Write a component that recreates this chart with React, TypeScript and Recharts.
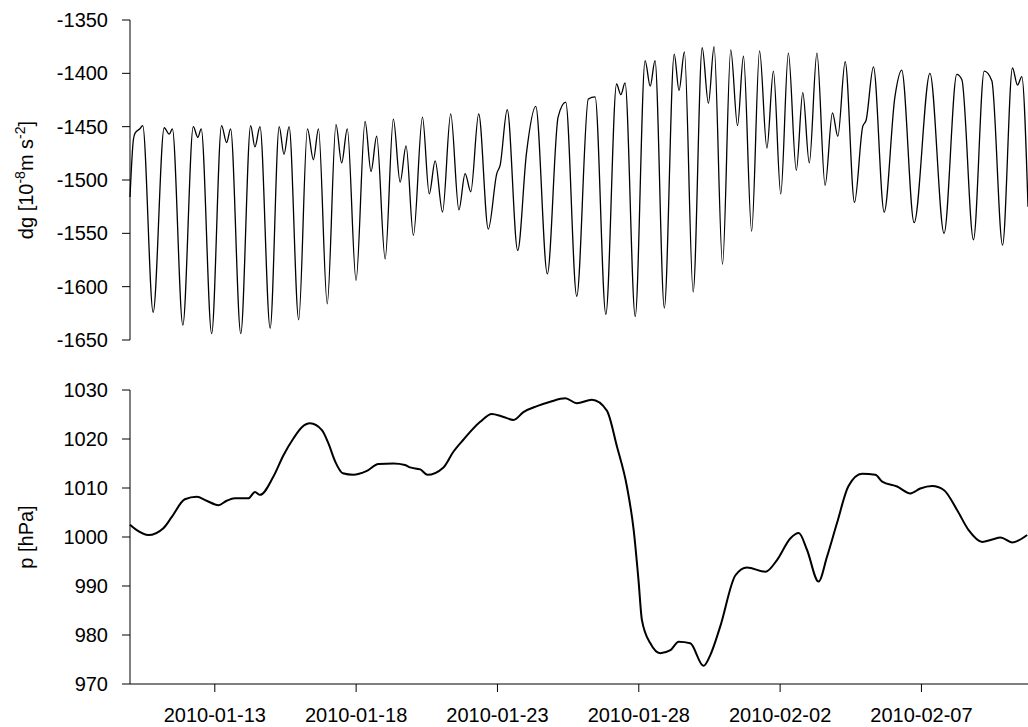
import { LineChart, Line, XAxis, YAxis } from "recharts";

// time axis: days after 2010-01-10 00:00
const X_TICKS = [3, 8, 13, 18, 23, 28];

const GRAV_T = [
  0, 0.12, 0.18, 0.35, 0.45, 0.82, 1.21, 1.39, 1.5, 1.87, 2.24, 2.4, 2.52, 2.89, 3.24, 3.42, 3.56, 3.92, 4.27, 4.42,
  4.6, 4.96, 5.28, 5.45, 5.63, 5.97, 6.28, 6.49, 6.67, 6.98, 7.29, 7.49, 7.69, 8.0, 8.32, 8.53, 8.73, 9.03, 9.32, 9.56,
  9.77, 10.03, 10.35, 10.59, 10.8, 11.06, 11.35, 11.64, 11.86, 12.06, 12.34, 12.68, 12.98, 13.1, 13.35, 13.72, 14.03,
  14.36, 14.77, 15.15, 15.42, 15.81, 16.22, 16.46, 16.84, 17.22, 17.37, 17.52, 17.88, 18.23, 18.41, 18.58, 18.91,
  19.26, 19.43, 19.62, 19.93, 20.25, 20.47, 20.67, 20.97, 21.26, 21.5, 21.71, 22.0, 22.28, 22.54, 22.77, 23.03, 23.3,
  23.58, 23.81, 24.04, 24.31, 24.6, 24.86, 25.05, 25.31, 25.64, 25.93, 26.05, 26.31, 26.69, 27.07, 27.31, 27.75,
  28.31, 28.81, 29.26, 29.44, 29.85, 30.23, 30.5, 30.88, 31.23, 31.41, 31.56, 31.78,
];

const GRAV_DG = [
  -1516, -1462, -1456, -1452, -1449, -1624, -1451, -1457, -1452, -1636, -1450, -1460, -1452, -1644, -1449, -1465,
  -1452, -1644, -1449, -1469, -1450, -1639, -1450, -1476, -1450, -1631, -1452, -1481, -1452, -1616, -1448, -1484,
  -1452, -1594, -1445, -1492, -1459, -1574, -1443, -1502, -1468, -1552, -1441, -1513, -1482, -1530, -1438, -1528,
  -1494, -1511, -1438, -1546, -1494, -1486, -1434, -1566, -1475, -1431, -1588, -1441, -1427, -1609, -1424, -1422,
  -1626, -1410, -1420, -1409, -1628, -1388, -1412, -1388, -1620, -1382, -1416, -1380, -1605, -1376, -1428, -1375,
  -1579, -1378, -1449, -1384, -1548, -1379, -1470, -1398, -1513, -1381, -1491, -1418, -1484, -1381, -1505, -1437,
  -1459, -1389, -1521, -1450, -1444, -1394, -1530, -1422, -1397, -1540, -1400, -1550, -1401, -1406, -1556, -1398,
  -1407, -1561, -1395, -1411, -1403, -1525,
];

const PRES_T = [
  0, 0.24, 0.65, 1.18, 1.48, 1.94, 2.36, 2.71, 3.13, 3.42, 3.71, 4.19, 4.42, 4.6, 5.07, 5.43, 5.78, 6.08, 6.37, 6.79,
  7.02, 7.26, 7.53, 7.9, 8.38, 8.79, 9.32, 9.73, 9.91, 10.27, 10.52, 11.09, 11.44, 11.8, 12.39, 12.8, 13.16, 13.57,
  13.92, 14.4, 14.87, 15.4, 15.81, 16.34, 16.87, 17.23, 17.58, 17.82, 17.99, 18.11, 18.41, 18.76, 19.12, 19.41, 19.82,
  20.29, 20.53, 20.88, 21.42, 21.83, 22.48, 22.89, 23.36, 23.66, 23.95, 24.36, 24.66, 25.01, 25.42, 25.9, 26.37, 26.61,
  27.14, 27.61, 27.96, 28.38, 28.79, 29.26, 29.67, 30.15, 30.5, 30.8, 31.21, 31.74,
];

const PRES_HPA = [
  1002.5, 1001.4, 1000.4, 1001.8, 1004.1, 1007.7, 1008.2, 1007.4, 1006.5, 1007.4, 1007.9, 1007.9, 1009.2, 1008.6,
  1012.3, 1016.7, 1020.1, 1022.4, 1023.2, 1021.8, 1019.1, 1015.4, 1013.0, 1012.7, 1013.5, 1014.9, 1015.0, 1014.7,
  1014.2, 1013.8, 1012.7, 1014.2, 1017.4, 1019.9, 1023.5, 1025.1, 1024.6, 1023.9, 1025.5, 1026.7, 1027.6, 1028.3,
  1027.3, 1028.0, 1025.8, 1018.4, 1010.3, 1001.4, 991.2, 983.1, 978.3, 976.3, 976.9, 978.6, 978.3, 973.7, 975.9,
  981.7, 992.2, 993.8, 992.9, 995.3, 999.7, 1000.8, 997.4, 990.9, 996.0, 1002.8, 1010.4, 1012.9, 1012.7, 1011.3,
  1010.3, 1008.9, 1009.9, 1010.4, 1009.6, 1005.5, 1001.4, 999.0, 999.5, 999.9, 998.9, 1000.4,
];

const DG_TICKS = [-1650, -1600, -1550, -1500, -1450, -1400, -1350];
const P_TICKS = [970, 980, 990, 1000, 1010, 1020, 1030];

const gravData = GRAV_T.map((t, i) => ({ t, dg: GRAV_DG[i] }));
const presData = PRES_T.map((t, i) => ({ t, p: PRES_HPA[i] }));

const FONT = "'Liberation Sans', Arial, sans-serif";
const X_DOMAIN: [number, number] = [0, 31.77];
const tickStyle = { fill: "#000", fontSize: 20, fontFamily: FONT };

const formatDay = (t: number) => {
  const d = new Date(Date.UTC(2010, 0, 10) + t * 86400000);
  return d.toISOString().slice(0, 10);
};

const DgTitle = () => (
  <text transform="rotate(-90, 33, 180)" x={33} y={180} textAnchor="middle" fontSize={20} fontFamily={FONT} fill="#000">
    dg [10
    <tspan fontSize={14} dy={-8}>-8</tspan>
    <tspan dy={8}>m s</tspan>
    <tspan fontSize={14} dy={-8}>-2</tspan>
    <tspan dy={8}>]</tspan>
  </text>
);

const PTitle = () => (
  <text transform="rotate(-90, 33, 177)" x={33} y={177} textAnchor="middle" fontSize={20} fontFamily={FONT} fill="#000">
    p [hPa]
  </text>
);

export default function App() {
  return (
    <div style={{ position: "absolute", left: 0, top: 0, width: 1028, height: 727, background: "#fff", fontFamily: FONT }}>
      <div style={{ position: "absolute", left: 0, top: 0 }}>
        <LineChart width={1028} height={360} data={gravData} margin={{ top: 20, right: 0, bottom: 20, left: 0 }}>
          <XAxis dataKey="t" type="number" domain={X_DOMAIN} hide />
          <YAxis
            domain={[-1650, -1350]}
            ticks={DG_TICKS}
            width={130}
            tickSize={8}
            tickMargin={14}
            tick={tickStyle}
            axisLine={{ stroke: "#000" }}
            tickLine={{ stroke: "#000" }}
            label={<DgTitle />}
          />
          <Line type="monotone" dataKey="dg" stroke="#000" strokeWidth={1.3} dot={false} isAnimationActive={false} />
        </LineChart>
      </div>
      <div style={{ position: "absolute", left: 0, top: 360 }}>
        <LineChart width={1028} height={367} data={presData} margin={{ top: 30, right: 0, bottom: 0, left: 0 }}>
          <XAxis
            dataKey="t"
            type="number"
            domain={X_DOMAIN}
            ticks={X_TICKS}
            tickFormatter={formatDay}
            height={43}
            tickSize={8}
            tickMargin={16}
            tick={tickStyle}
            axisLine={{ stroke: "#000" }}
            tickLine={{ stroke: "#000" }}
          />
          <YAxis
            domain={[970, 1030]}
            ticks={P_TICKS}
            width={130}
            tickSize={8}
            tickMargin={14}
            tick={tickStyle}
            axisLine={{ stroke: "#000" }}
            tickLine={{ stroke: "#000" }}
            label={<PTitle />}
          />
          <Line type="monotone" dataKey="p" stroke="#000" strokeWidth={2} dot={false} isAnimationActive={false} />
        </LineChart>
      </div>
    </div>
  );
}
